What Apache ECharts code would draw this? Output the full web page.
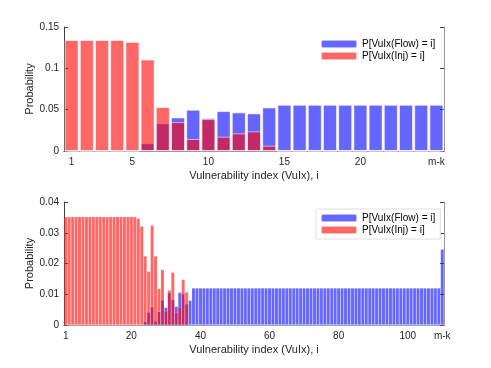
<!DOCTYPE html>
<html>
<head>
<meta charset="utf-8">
<script src="https://cdn.jsdelivr.net/npm/echarts@6/dist/echarts.min.js"></script>
<style>
html,body{margin:0;padding:0;background:#fff;}
#c{width:491px;height:368px;}
</style>
</head>
<body>
<div id="c"></div>
<script>
// ---- Data ----
var flowName = 'P[VuIx(Flow) = i]';
var injName = 'P[VuIx(Inj) = i]';
var xTitle = 'Vulnerability index (VuIx), i';
var yTitle = 'Probability';

// Top panel: indices 1..25 (25 = m-k)
var topCats = ['1','2','3','4','5','6','7','8','9','10','11','12','13','14','15','16','17','18','19','20','21','22','23','24','m-k'];
var topTickLabels = ['1','5','10','15','20','m-k'];
var topFlow = [0,0,0,0,0,0.0093,0.0334,0.0406,0.0499,0.0398,0.0483,0.0467,0.0455,0.0527,
  0.0559,0.0559,0.0559,0.0559,0.0559,0.0559,0.0559,0.0559,0.0559,0.0559,0.0559];
var topInj = [0.1343,0.1343,0.1343,0.1343,0.1320,0.1106,0.0531,0.0350,0.0145,0.0386,0.0173,0.0213,0.0237,0.0064,
  0,0,0,0,0,0,0,0,0,0,0];

// Bottom panel: indices 1..110 (110 = m-k)
var botCats = [];
for (var k = 1; k <= 109; k++) botCats.push(String(k));
botCats.push('m-k');
var botTickLabels = ['1','20','40','60','80','100','m-k'];
var botFlow = [
  0,0,0,0,0,0,0,0,0,0,
  0,0,0,0,0,0,0,0,0,0,
  0,0,0,0.0010,0.0041,0.0058,0.0012,0.0043,0.0080,0.0057,
  0.0104,0.0082,0.0060,0.0106,0.0101,0.0068,0.0080,0.0120,0.0120,0.0120,
  0.0120,0.0120,0.0120,0.0120,0.0120,0.0120,0.0120,0.0120,0.0120,0.0120,
  0.0120,0.0120,0.0120,0.0120,0.0120,0.0120,0.0120,0.0120,0.0120,0.0120,
  0.0120,0.0120,0.0120,0.0120,0.0120,0.0120,0.0120,0.0120,0.0120,0.0120,
  0.0120,0.0120,0.0120,0.0120,0.0120,0.0120,0.0120,0.0120,0.0120,0.0120,
  0.0120,0.0120,0.0120,0.0120,0.0120,0.0120,0.0120,0.0120,0.0120,0.0120,
  0.0120,0.0120,0.0120,0.0120,0.0120,0.0120,0.0120,0.0120,0.0120,0.0120,
  0.0120,0.0120,0.0120,0.0120,0.0120,0.0120,0.0120,0.0120,0.0120,0.0246
];
var botInj = [
  0.0352,0.0352,0.0352,0.0352,0.0352,0.0352,0.0352,0.0352,0.0352,0.0352,
  0.0352,0.0352,0.0352,0.0352,0.0352,0.0352,0.0352,0.0352,0.0352,0.0352,
  0.0352,0.0347,0.0321,0.0224,0.0174,0.0324,0.0224,0.0118,0.0180,0.0045,
  0.0113,0.0171,0.0040,0.0056,0.0148,0.0107,0,0,0,0,
  0.0003,0,0,0,0,0,0,0,0,0,
  0,0,0,0,0,0,0,0,0,0,
  0,0,0,0,0,0,0,0,0,0,
  0,0,0,0,0,0,0,0,0,0,
  0,0,0,0,0,0,0,0,0,0,
  0,0,0,0,0,0,0,0,0,0,
  0,0,0,0,0,0,0,0,0,0
];

// ---- Chart ----
var FONT = 'Liberation Sans, Arial, Helvetica, sans-serif';
var DARK = '#404040';
var LIGHT = '#9a9a9a';
var BLUE = 'rgba(0,0,255,0.6)';
var RED = 'rgba(255,0,0,0.6)';

function tickFn(cats, labels) {
  return function (index, value) { return labels.indexOf(cats[index]) >= 0; };
}

function xAxes(gridIndex, cats, labels) {
  var fn = tickFn(cats, labels);
  return [{
    type: 'category', gridIndex: gridIndex, data: cats, position: 'bottom',
    axisLine: { lineStyle: { color: DARK, width: 1 } },
    axisTick: { inside: true, length: 4, alignWithLabel: true, interval: fn, lineStyle: { color: DARK } },
    axisLabel: { interval: fn, color: '#262626', fontSize: 10, fontFamily: FONT, margin: 6 },
    name: xTitle, nameLocation: 'middle', nameGap: 19, nameMoveOverlap: false,
    nameTextStyle: { color: '#262626', fontSize: 11, fontFamily: FONT },
    splitLine: { show: false }
  }, {
    type: 'category', gridIndex: gridIndex, data: cats, position: 'top',
    axisLine: { lineStyle: { color: LIGHT, width: 1 } },
    axisTick: { inside: true, length: 4, alignWithLabel: true, interval: fn, lineStyle: { color: DARK } },
    axisLabel: { show: false },
    splitLine: { show: false }
  }];
}

function yAxes(gridIndex, max, interval) {
  return [{
    type: 'value', gridIndex: gridIndex, min: 0, max: max, interval: interval, position: 'left',
    axisLine: { show: true, lineStyle: { color: DARK, width: 1 } },
    axisTick: { show: true, inside: true, length: 4, lineStyle: { color: DARK } },
    axisLabel: { color: '#262626', fontSize: 10, fontFamily: FONT, margin: 5 },
    splitLine: { show: false },
    name: yTitle, nameLocation: 'middle', nameGap: 29, nameMoveOverlap: false,
    nameTextStyle: { color: '#262626', fontSize: 11, fontFamily: FONT }
  }, {
    type: 'value', gridIndex: gridIndex, min: 0, max: max, interval: interval, position: 'right',
    axisLine: { show: true, lineStyle: { color: LIGHT, width: 1 } },
    axisTick: { show: true, inside: true, length: 4, lineStyle: { color: DARK } },
    axisLabel: { show: false },
    splitLine: { show: false }
  }];
}

function barSeries(name, data, color, xi, yi, gap, bw, bc) {
  return {
    type: 'bar', name: name, data: data, xAxisIndex: xi, yAxisIndex: yi,
    barGap: '-100%', barCategoryGap: gap,
    itemStyle: { color: color, borderColor: bc, borderWidth: bw },
    emphasis: { disabled: true }, silent: true
  };
}

var chart = echarts.init(document.getElementById('c'), null, { renderer: 'canvas' });
chart.setOption({
  animation: false,
  backgroundColor: '#ffffff',
  textStyle: { fontFamily: FONT },
  grid: [
    { left: 64, right: 47, top: 27, bottom: 217, containLabel: false },
    { left: 64, right: 47, top: 202, bottom: 43, containLabel: false }
  ],
  xAxis: xAxes(0, topCats, topTickLabels).concat(xAxes(1, botCats, botTickLabels)),
  yAxis: yAxes(0, 0.15, 0.05).concat(yAxes(1, 0.04, 0.01)),
  legend: [{
    data: [flowName, injName], orient: 'vertical', left: 316, top: 35,
    itemWidth: 36, itemHeight: 8, itemGap: 0, padding: [3, 5, 3, 4],
    backgroundColor: '#ffffff',
    textStyle: { color: '#000', fontSize: 10, fontFamily: FONT, lineHeight: 12 },
    selectedMode: false
  }, {
    data: [flowName, injName], orient: 'vertical', left: 316, top: 209,
    itemWidth: 36, itemHeight: 8, itemGap: 0, padding: [3, 5, 3, 4],
    backgroundColor: '#ffffff', borderColor: '#e0e0e0', borderWidth: 1,
    textStyle: { color: '#000', fontSize: 10, fontFamily: FONT, lineHeight: 12 },
    selectedMode: false
  }],
  series: [
    barSeries(flowName, topFlow, BLUE, 0, 0, '8%', 1, 'rgba(255,255,255,0.55)'),
    barSeries(injName, topInj, RED, 0, 0, '8%', 1, 'rgba(255,255,255,0.55)'),
    barSeries(flowName, botFlow, BLUE, 2, 2, '0%', 0.4, 'rgba(255,255,255,0.35)'),
    barSeries(injName, botInj, RED, 2, 2, '0%', 0.4, 'rgba(255,255,255,0.35)')
  ]
});
</script>
</body>
</html>
